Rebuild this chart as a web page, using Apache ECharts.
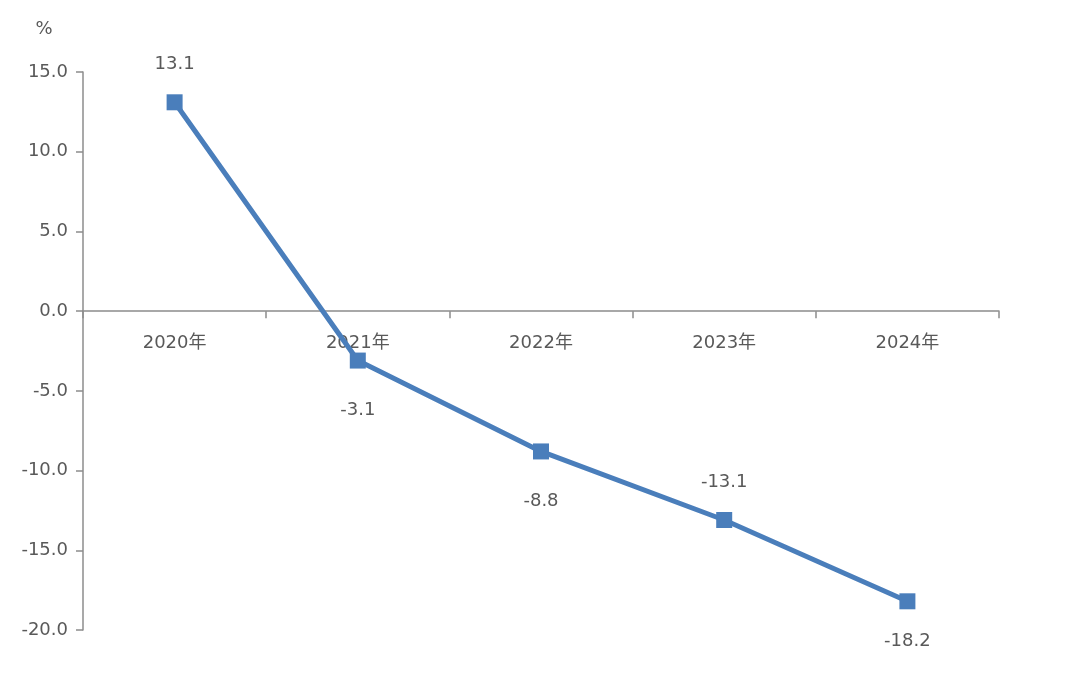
<!DOCTYPE html>
<html><head><meta charset="utf-8">
<script src="https://cdn.jsdelivr.net/npm/echarts@6/dist/echarts.min.js"></script>
<style>html,body{margin:0;padding:0;background:#fff}#c{width:1080px;height:686px}</style>
</head><body><div id="c"></div>
<script>
const categories = ['2020年','2021年','2022年','2023年','2024年'];
const values = [13.1, -3.1, -8.8, -13.1, -18.2];
const labelPositions = ['top','bottom','bottom','top','bottom'];
const yTicks = {min: -20, max: 15, interval: 5};

const font = '"DejaVu Sans", "Noto Sans CJK SC", sans-serif';
const axisColor = '#8c8c8c';
const textColor = '#595959';

const chart = echarts.init(document.getElementById('c'));
const gridTop = 72, gridBottom = 56, plotH = 686 - gridTop - gridBottom;
const zeroOffset = -plotH * (0 - yTicks.min) / (yTicks.max - yTicks.min);
chart.setOption({
  animation: false,
  grid: {left: 83, right: 81, top: gridTop, bottom: gridBottom, containLabel: false},
  xAxis: {
    type: 'category', data: categories, boundaryGap: true,
    position: 'bottom', offset: zeroOffset,
    axisLine: {onZero: false, lineStyle: {color: axisColor, width: 1.5}},
    axisTick: {show: true, length: 7, alignWithLabel: false, lineStyle: {color: axisColor, width: 1.5}},
    axisLabel: {color: textColor, fontSize: 18, fontFamily: font, margin: 23},
    splitLine: {show: false}
  },
  yAxis: {
    type: 'value', min: yTicks.min, max: yTicks.max, interval: yTicks.interval,
    name: '%', nameLocation: 'end', nameGap: 34,
    nameTextStyle: {color: textColor, fontSize: 18, fontFamily: font, align: 'center', padding: [0, 78, 0, 0]},
    axisLine: {show: true, lineStyle: {color: axisColor, width: 1.5}},
    axisTick: {show: true, length: 7, lineStyle: {color: axisColor, width: 1.5}},
    axisLabel: {color: textColor, fontSize: 18, fontFamily: font, margin: 15,
      formatter: v => v.toFixed(1)},
    splitLine: {show: false}
  },
  series: [{
    type: 'line',
    data: values.map((v, i) => ({
      value: v,
      label: {position: labelPositions[i], distance: labelPositions[i] === 'top' ? 21 : (i === 4 ? 23 : 33)}
    })),
    symbol: 'rect', symbolSize: 16,
    lineStyle: {color: '#4a7ebb', width: 5},
    itemStyle: {color: '#4a7ebb'},
    label: {show: true, color: textColor, fontSize: 18, fontFamily: font, formatter: p => p.value.toFixed(1)}
  }]
});
</script></body></html>
